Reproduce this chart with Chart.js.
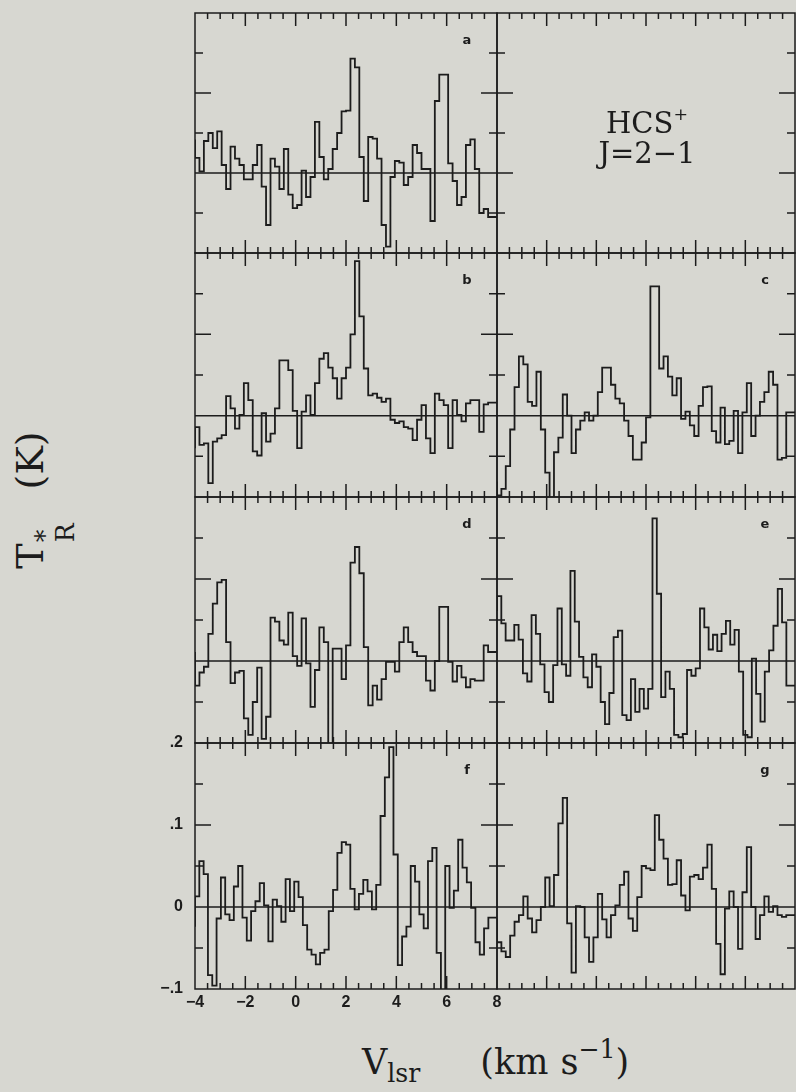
<!DOCTYPE html>
<html>
<head>
<meta charset="utf-8">
<script src="https://cdn.jsdelivr.net/npm/chart.js@4.4.0/dist/chart.umd.min.js"></script>
<style>
  html, body { margin: 0; padding: 0; }
  body { width: 796px; height: 1092px; background: #d7d7d1; position: relative; overflow: hidden; }
  canvas { position: absolute; }
  .title { position: absolute; font-family: "DejaVu Serif", serif; color: #1c1c1c; white-space: nowrap; }
  #ytitle { left: 41px; top: 500px; font-size: 38px; line-height: 46px; transform: translate(-50%, -50%) rotate(-90deg); }
  #xtitle { left: 362px; top: 1041px; font-size: 35px; line-height: 42px; }
  #xtitle sub { font-size: 0.72em; vertical-align: -0.32em; line-height: 0; }
  #xtitle sup { font-size: 0.72em; vertical-align: 0.62em; line-height: 0; }
  .stk { display: inline-flex; flex-direction: column; font-size: 0.66em; line-height: 0.8; vertical-align: -0.42em; margin-left: 1px; }
  #line { left: 647px; top: 108px; font-size: 29px; line-height: 30px; text-align: center; transform: translateX(-50%); }
  #line sup { font-size: 0.6em; vertical-align: 0.75em; line-height: 0; }
</style>
</head>
<body>
<canvas id="pa"></canvas>
<canvas id="pt"></canvas>
<canvas id="pb"></canvas>
<canvas id="pc"></canvas>
<canvas id="pd"></canvas>
<canvas id="pe"></canvas>
<canvas id="pf"></canvas>
<canvas id="pg"></canvas>
<div id="ytitle" class="title">T<span class="stk"><span>*</span><span>R</span></span><span style="margin-left:34px">(K)</span></div>
<div id="xtitle" class="title">V<sub>lsr</sub><span style="margin-left:60px">(km</span><span style="margin-left:12px">s</span><sup>−1</sup>)</div>
<div id="line" class="title">HCS<sup>+</sup><br>J=2−1</div>
<script>
// T_R* per channel (K), channels evenly spread from -4 to 8 km/s
const panelA = [0.042, 0.019, 0.002, 0.04, 0.05, 0.031, 0.052, 0.01, -0.02, 0.033,
  0.018, 0.01, -0.008, -0.008, 0.01, 0.035, -0.017, -0.065, 0.018, 0.008,
  -0.02, 0.03, -0.027, -0.044, -0.04, 0.003, -0.03, -0.005, 0.064, 0.02,
  -0.008, 0.005, 0.03, 0.05, 0.077, 0.078, 0.143, 0.132, 0.02, -0.035,
  0.045, 0.043, 0.018, -0.065, -0.092, -0.005, 0.015, 0.013, -0.015, -0.005,
  0.035, 0.025, 0.005, 0.005, -0.06, 0.09, 0.123, 0.123, 0.012, -0.01,
  -0.04, -0.03, 0.035, 0.042, 0.005, -0.05, -0.045, -0.055];
const panelB = [-0.04, -0.014, -0.036, -0.034, -0.083, -0.032, -0.028, -0.024, 0.024, 0.009,
  -0.016, 0.001, 0.04, 0.019, -0.044, -0.049, 0.003, -0.032, -0.022, 0.009,
  0.068, 0.068, 0.056, 0.006, -0.04, 0.005, 0.025, 0.001, 0.04, 0.07,
  0.077, 0.059, 0.046, 0.021, 0.046, 0.059, 0.1, 0.19, 0.122, 0.058,
  0.025, 0.027, 0.022, 0.017, 0.021, -0.005, -0.009, -0.007, -0.014, -0.016,
  -0.03, -0.005, 0.013, -0.028, -0.046, 0.027, 0.019, 0.013, -0.04, 0.019,
  0.001, -0.007, 0.015, 0.019, 0.019, -0.02, 0.014, 0.016];
const panelC = [-0.081, -0.098, -0.09, -0.062, -0.017, 0.035, 0.073, 0.063, 0.017, 0.012,
  0.054, -0.017, -0.07, -0.11, -0.045, -0.027, 0.026, 0.0, -0.046, -0.017,
  -0.006, 0.004, -0.006, 0.0, 0.029, 0.059, 0.059, 0.038, 0.021, 0.015,
  -0.006, -0.025, -0.054, -0.054, -0.033, -0.002, 0.159, 0.159, 0.058, 0.073,
  0.048, 0.025, 0.046, -0.004, 0.005, -0.012, -0.025, 0.012, 0.035, 0.036,
  -0.019, -0.033, 0.01, -0.035, -0.031, 0.006, -0.046, 0.004, 0.04, -0.025,
  0.0, 0.017, 0.029, 0.054, 0.038, -0.054, -0.052, 0.004];
const panelD = [0.011, -0.03, -0.014, -0.007, 0.033, 0.07, 0.096, 0.099, 0.023, -0.027,
  -0.014, -0.012, -0.07, -0.09, -0.05, -0.008, -0.095, -0.068, 0.053, 0.048,
  0.025, 0.02, 0.059, 0.006, -0.006, 0.052, -0.003, -0.056, -0.011, 0.041,
  0.023, -0.11, 0.015, 0.015, -0.022, 0.019, 0.12, 0.139, 0.107, 0.017,
  -0.054, -0.03, -0.047, -0.022, -0.001, -0.001, -0.013, 0.023, 0.041, 0.023,
  0.011, 0.006, 0.006, -0.024, -0.036, 0.0, 0.066, 0.066, -0.001, -0.025,
  -0.006, -0.02, -0.032, -0.022, -0.024, -0.024, 0.019, 0.011];
const panelE = [0.061, 0.079, 0.046, 0.025, 0.025, 0.044, 0.026, -0.015, -0.025, 0.056,
  0.033, -0.004, -0.038, -0.05, -0.005, 0.064, -0.004, -0.018, 0.11, 0.048,
  0.005, -0.02, -0.032, 0.008, -0.007, -0.05, -0.077, -0.039, 0.029, 0.037,
  -0.066, -0.072, -0.022, -0.062, -0.034, -0.058, -0.034, 0.174, 0.082, -0.044,
  -0.013, -0.034, -0.09, -0.093, -0.089, -0.011, -0.018, -0.009, 0.064, 0.041,
  0.014, 0.032, 0.012, 0.033, 0.049, 0.02, 0.038, -0.013, -0.09, -0.093,
  0.003, -0.04, -0.074, -0.013, 0.013, 0.043, 0.088, 0.047, -0.03];
const panelF = [-0.024, 0.013, 0.056, 0.04, -0.083, -0.096, -0.014, 0.036, -0.009, -0.016,
  0.025, 0.05, -0.013, -0.041, -0.005, 0.007, 0.029, 0.002, -0.042, 0.009,
  0.001, -0.018, 0.034, -0.005, 0.031, 0.012, -0.022, -0.052, -0.058, -0.07,
  -0.056, -0.052, -0.005, 0.021, 0.066, 0.079, 0.076, 0.022, -0.003, 0.016,
  0.033, 0.019, -0.003, 0.027, 0.111, 0.158, 0.195, 0.064, -0.071, -0.036,
  -0.024, 0.05, 0.031, -0.009, -0.026, 0.056, 0.072, -0.056, -0.11, 0.05,
  -0.001, 0.02, 0.082, 0.048, 0.03, -0.001, -0.043, -0.058, -0.026, -0.013];
const panelG = [-0.014, -0.043, -0.054, -0.061, -0.035, -0.018, -0.01, 0.013, -0.014, -0.031,
  -0.016, 0.0, 0.036, 0.001, 0.039, 0.102, 0.133, -0.02, -0.08, 0.001,
  0.0, -0.037, -0.067, -0.037, 0.016, -0.015, -0.037, -0.01, 0.002, 0.027,
  0.043, -0.014, -0.029, 0.012, 0.05, 0.047, 0.045, 0.112, 0.082, 0.059,
  0.027, 0.028, 0.057, 0.014, -0.004, 0.037, 0.039, 0.034, 0.048, 0.076,
  0.022, -0.045, -0.082, -0.002, 0.019, 0.0, -0.051, 0.018, 0.073, 0.0,
  -0.039, -0.01, 0.013, -0.006, 0.001, -0.01, -0.012, -0.01];

// ticks and labels
const xTicks = [-3.5, -3, -2.5, -2, -1.5, -1, -0.5, 0, 0.5, 1, 1.5, 2, 2.5, 3, 3.5, 4, 4.5, 5, 5.5, 6, 6.5, 7, 7.5];
const xMajor = [-2, 0, 2, 4, 6];
const yTicks = [-0.05, 0, 0.05, 0.1, 0.15];
const yLong = [0, 0.1];
const xLabelValues = [-4, -2, 0, 2, 4, 6, 8];
const xLabels = ["−4", "−2", "0", "2", "4", "6", "8"];
const yLabelValues = [0.2, 0.1, 0, -0.1];
const yLabels = [".2", ".1", "0", "−.1"];

const ink = "#1c1c1c";

// frame, inward ticks, zero line, panel letter
const panelFrame = {
  id: "panelFrame",
  afterDatasetsDraw(chart, args, opts) {
    const { ctx, chartArea: a } = chart;
    const x = chart.scales.x, y = chart.scales.y;
    ctx.save();
    ctx.strokeStyle = ink;
    ctx.fillStyle = ink;
    ctx.lineWidth = 1.5;
    ctx.beginPath();
    if (opts.baseline) {
      const y0 = y.getPixelForValue(0);
      ctx.moveTo(a.left, y0); ctx.lineTo(a.right, y0);
    }
    ctx.rect(a.left, a.top, a.right - a.left, a.bottom - a.top);
    xTicks.forEach(v => {
      const px = x.getPixelForValue(v);
      const len = xMajor.includes(v) ? 13 : 6;
      ctx.moveTo(px, a.top); ctx.lineTo(px, a.top + len);
      ctx.moveTo(px, a.bottom); ctx.lineTo(px, a.bottom - len);
    });
    yTicks.forEach(v => {
      const py = y.getPixelForValue(v);
      const len = yLong.includes(v) ? 16 : 8;
      ctx.moveTo(a.left, py); ctx.lineTo(a.left + len, py);
      ctx.moveTo(a.right, py); ctx.lineTo(a.right - len, py);
    });
    ctx.stroke();
    if (opts.letter) {
      ctx.font = "bold 13px 'DejaVu Sans'";
      ctx.textAlign = "center";
      ctx.textBaseline = "middle";
      ctx.fillText(opts.letter, a.right - 30, a.top + 28);
    }
    if (opts.labels) {
      ctx.font = "bold 16px 'Liberation Sans'";
      ctx.textAlign = "center";
      ctx.textBaseline = "middle";
      xLabelValues.forEach((v, i) => ctx.fillText(xLabels[i], x.getPixelForValue(v), a.bottom + 14));
      ctx.textAlign = "right";
      yLabelValues.forEach((v, i) => ctx.fillText(yLabels[i], a.left - 12, y.getPixelForValue(v)));
    }
    ctx.restore();
  }
};

const colL = [195, 497], colR = [497, 795];
const rows = [[13, 253], [253, 497], [497, 743], [743, 989]];

function makePanel(id, values, col, row, extra) {
  const pad = Object.assign({ left: 4, right: 4, top: 4, bottom: 4 }, extra.pad || {});
  const cv = document.getElementById(id);
  cv.width = col[1] - col[0] + pad.left + pad.right;
  cv.height = row[1] - row[0] + pad.top + pad.bottom;
  cv.style.left = (col[0] - pad.left) + "px";
  cv.style.top = (row[0] - pad.top) + "px";
  cv.style.width = cv.width + "px";
  cv.style.height = cv.height + "px";

  const datasets = [];
  if (values) {
    const w = 12 / values.length;
    const pts = values.map((v, i) => ({ x: -4 + i * w, y: v }));
    pts.push({ x: 8, y: values[values.length - 1] });
    datasets.push({ data: pts, stepped: "after", borderColor: ink, borderWidth: 1.8, pointRadius: 0, fill: false });
  }

  return new Chart(cv.getContext("2d"), {
    type: "line",
    data: { datasets },
    options: {
      responsive: false,
      animation: false,
      events: [],
      layout: { padding: pad },
      plugins: {
        legend: { display: false },
        tooltip: { enabled: false },
        panelFrame: { letter: extra.letter, baseline: !!values, labels: !!extra.labels }
      },
      scales: {
        x: { type: "linear", min: -4, max: 8, display: false },
        y: { type: "linear", min: -0.1, max: 0.2, display: false }
      }
    },
    plugins: [panelFrame]
  });
}

makePanel("pa", panelA, colL, rows[0], { letter: "a" });
makePanel("pt", null, colR, rows[0], {});
makePanel("pb", panelB, colL, rows[1], { letter: "b" });
makePanel("pc", panelC, colR, rows[1], { letter: "c" });
makePanel("pd", panelD, colL, rows[2], { letter: "d" });
makePanel("pe", panelE, colR, rows[2], { letter: "e" });
makePanel("pf", panelF, colL, rows[3], { letter: "f", labels: true, pad: { left: 50, bottom: 30, top: 14 } });
makePanel("pg", panelG, colR, rows[3], { letter: "g" });
</script>
</body>
</html>
